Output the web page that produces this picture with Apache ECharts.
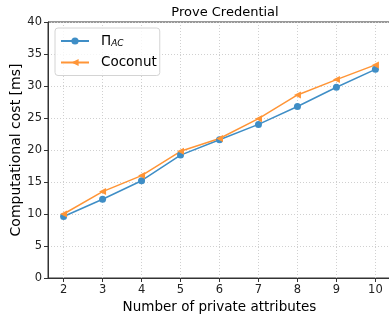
<!DOCTYPE html>
<html>
<head>
<meta charset="utf-8">
<script src="https://cdn.jsdelivr.net/npm/echarts@6/dist/echarts.min.js"></script>
<style>
  html, body { margin: 0; padding: 0; background: #fff; }
  #chart { width: 389px; height: 320px; }
</style>
</head>
<body>
<div id="chart"></div>
<script>
var attributes = [2, 3, 4, 5, 6, 7, 8, 9, 10];
var piAC = [9.6, 12.3, 15.2, 19.2, 21.6, 24.0, 26.8, 29.8, 32.6];
var coconut = [10.0, 13.5, 16.0, 19.8, 21.8, 24.9, 28.6, 31.0, 33.3];

function pairs(ys) {
    return attributes.map(function (x, i) { return [x, ys[i]]; });
}

var myChart = echarts.init(document.getElementById('chart'));

var font = 'DejaVu Sans';

var option = {
    animation: false,
    textStyle: { fontFamily: font },
    title: {
        text: 'Prove Credential',
        left: 220,
        textAlign: 'center',
        top: 1,
        textStyle: { fontFamily: font, fontSize: 13, fontWeight: 'normal', color: '#000' }
    },
    legend: {
        left: 55,
        top: 28,
        orient: 'vertical',
        itemWidth: 28,
        itemHeight: 9,
        itemGap: 7,
        padding: [6, 3, 6, 5],
        borderColor: '#d4d4d4',
        borderWidth: 1,
        borderRadius: 3,
        backgroundColor: 'rgba(255,255,255,0.8)',
        textStyle: {
            fontFamily: font,
            fontSize: 13.5,
            color: '#000',
            padding: [0, 0, 0, 7],
            rich: {
                sub: { fontFamily: font, fontSize: 9, fontStyle: 'italic', verticalAlign: 'bottom', padding: [6, 0, 0, 0], color: '#000' }
            }
        },
        formatter: function (name) {
            return name === 'PiAC' ? 'Π{sub|AC}' : name;
        },
        data: ['PiAC', 'Coconut']
    },
    grid: {
        left: 48,
        width: 343,
        top: 22,
        height: 256,
        outerBoundsMode: 'none',
        containLabel: false,
        show: true,
        borderColor: '#333',
        borderWidth: 1
    },
    xAxis: {
        type: 'value',
        min: 1.6,
        max: 10.4,
        minInterval: 1,
        maxInterval: 1,
        name: 'Number of private attributes',
        nameLocation: 'middle',
        nameGap: 22,
        nameMoveOverlap: false,
        nameTextStyle: { fontFamily: font, fontSize: 13.5, color: '#000' },
        axisLine: { lineStyle: { color: '#333' } },
        axisTick: { length: 4, lineStyle: { color: '#333' } },
        axisLabel: { fontFamily: font, fontSize: 11.5, color: '#222', margin: 6, showMinLabel: false, showMaxLabel: false },
        splitLine: { show: true, lineStyle: { color: '#d0d0d0', type: [1, 2] } }
    },
    yAxis: {
        type: 'value',
        min: 0,
        max: 40,
        interval: 5,
        name: 'Computational cost [ms]',
        nameLocation: 'middle',
        nameGap: 25,
        nameMoveOverlap: false,
        nameTextStyle: { fontFamily: font, fontSize: 14, color: '#000' },
        axisLine: { show: true, lineStyle: { color: '#333' } },
        axisTick: { show: true, length: 4, lineStyle: { color: '#333' } },
        axisLabel: { fontFamily: font, fontSize: 11.5, color: '#222', margin: 6 },
        splitLine: { show: true, lineStyle: { color: '#d0d0d0', type: [1, 2] } }
    },
    series: [
        {
            name: 'PiAC',
            type: 'line',
            data: pairs(piAC),
            symbol: 'circle',
            symbolSize: 7,
            lineStyle: { color: '#3f8ec6', width: 1.5 },
            itemStyle: { color: '#3f8ec6' }
        },
        {
            name: 'Coconut',
            type: 'line',
            data: pairs(coconut),
            symbol: 'triangle',
            symbolRotate: 90,
            symbolSize: 7,
            lineStyle: { color: '#ff9537', width: 1.5 },
            itemStyle: { color: '#ff9537' }
        }
    ]
};

myChart.setOption(option);
</script>
</body>
</html>
